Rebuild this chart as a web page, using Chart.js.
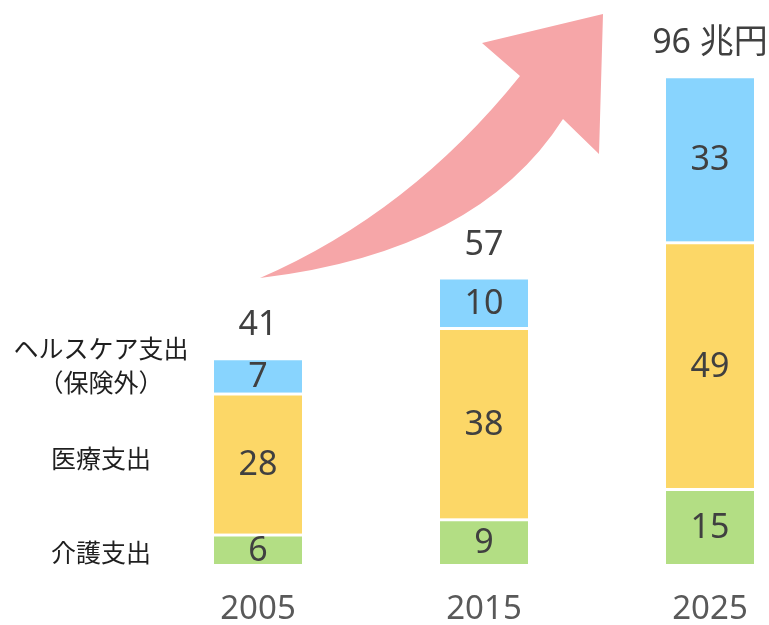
<!DOCTYPE html>
<html>
<head>
<meta charset="utf-8">
<script src="https://cdn.jsdelivr.net/npm/chart.js@4/dist/chart.umd.min.js"></script>
<style>
  html, body { margin: 0; padding: 0; background: #fff; }
  #wrap { width: 769px; height: 625px; }
</style>
</head>
<body>
<div id="wrap"><canvas id="chart"></canvas></div>
<script>
const years = ['2005', '2015', '2025'];
const kaigo = [6, 9, 15];
const iryo = [28, 38, 49];
const healthcare = [7, 10, 33];
const totals = [41, 57, 96];
const unit = ' 兆円';
const seriesNames = [['介護支出'], ['医療支出'], ['ヘルスケア支出', '（保険外）']];
const nameShift = [4, -5, -10];

const numFont = '34px "Noto Sans", "Noto Sans CJK JP", sans-serif';
const jpFont = '25px "Noto Sans CJK JP", sans-serif';

// pink arrow behind the bars
const arrowPlugin = {
    id: 'arrow',
    beforeDatasetsDraw(chart) {
        const ctx = chart.ctx;
        ctx.save();
        ctx.fillStyle = '#F6A6A8';
        ctx.beginPath();
        ctx.moveTo(260, 278);
        ctx.quadraticCurveTo(410, 213, 520, 76);
        ctx.lineTo(482, 43);
        ctx.lineTo(603, 14);
        ctx.lineTo(599, 154);
        ctx.lineTo(563, 119);
        ctx.quadraticCurveTo(478, 252, 260, 278);
        ctx.closePath();
        ctx.fill();
        ctx.restore();
    }
};

const labelPlugin = {
    id: 'labels',
    afterDatasetsDraw(chart) {
        const ctx = chart.ctx;
        ctx.save();
        ctx.textAlign = 'center';
        ctx.textBaseline = 'middle';
        ctx.font = numFont;
        ctx.fillStyle = '#404040';
        chart.data.datasets.forEach((ds, i) => {
            chart.getDatasetMeta(i).data.forEach((bar, j) => {
                ctx.fillText(String(ds.data[j]), bar.x, (bar.y + bar.base) / 2 + 2);
            });
        });
        const top = chart.getDatasetMeta(chart.data.datasets.length - 1).data;
        top.forEach((bar, j) => {
            const txt = totals[j] + (j === totals.length - 1 ? unit : '');
            ctx.fillText(txt, bar.x, bar.y - 32);
        });
        // series names beside the first bar
        ctx.font = jpFont;
        ctx.fillStyle = '#1f1f1f';
        chart.data.datasets.forEach((ds, i) => {
            const bar = chart.getDatasetMeta(i).data[0];
            const lines = seriesNames[i];
            const cy = (bar.y + bar.base) / 2 + nameShift[i];
            lines.forEach((ln, k) => {
                ctx.fillText(ln, bar.x - 157, cy + (k - (lines.length - 1) / 2) * 34);
            });
        });
        ctx.restore();
    }
};

const seg = (label, data, color) => ({
    label, data,
    backgroundColor: color,
    borderColor: '#ffffff',
    borderWidth: { top: 3 },
    borderSkipped: false,
    barThickness: 88,
    clip: false
});

new Chart(document.getElementById('chart'), {
    type: 'bar',
    data: {
        labels: years,
        datasets: [
            seg('介護支出', kaigo, '#B3DE84'),
            seg('医療支出', iryo, '#FCD767'),
            seg('ヘルスケア支出（保険外）', healthcare, '#88D4FE')
        ]
    },
    options: {
        responsive: true,
        maintainAspectRatio: false,
        animation: false,
        layout: { padding: { left: 258, right: 59, top: 10, bottom: -1 } },
        plugins: { legend: { display: false }, tooltip: { enabled: false } },
        scales: {
            x: {
                stacked: true,
                offset: false,
                grid: { display: false, drawTicks: true, tickLength: 29 },
                border: { display: false },
                ticks: {
                    color: '#595959',
                    padding: 0,
                    font: { family: '"Noto Sans", sans-serif', size: 33, lineHeight: 1 }
                }
            },
            y: {
                stacked: true,
                display: false,
                min: 0,
                max: 110
            }
        }
    },
    plugins: [arrowPlugin, labelPlugin]
});
</script>
</body>
</html>
